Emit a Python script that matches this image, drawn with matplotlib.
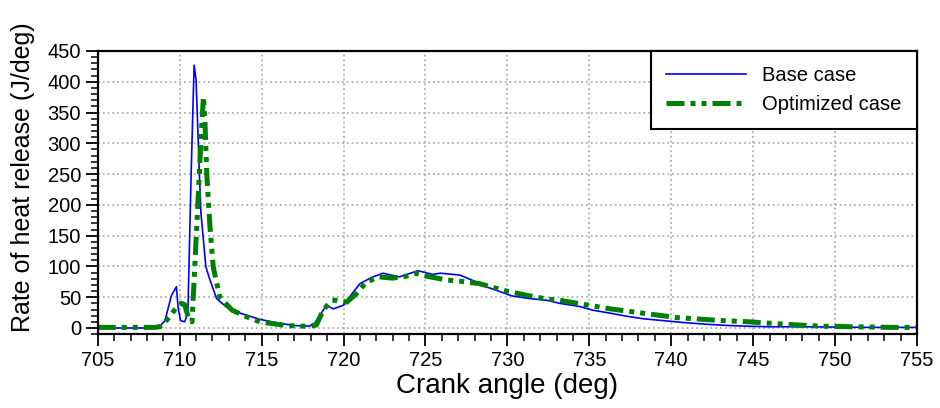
import numpy as np
import matplotlib.pyplot as plt
from matplotlib.ticker import MultipleLocator

plt.rcParams['font.family'] = ['Liberation Sans', 'DejaVu Sans']

# Base case heat release rate (crank angle in deg, J/deg)
base_angle = [705, 706, 707, 708, 708.5, 708.8, 709.1, 709.5, 709.8, 709.9, 710.05, 710.3,
              710.5, 710.7, 710.88, 711.0, 711.2, 711.3, 711.6, 711.85, 712.25, 712.85,
              713.7, 714.9, 716.0, 716.5, 717.0, 717.9, 718.25, 718.96, 719.37, 720.0,
              720.5, 721.0, 721.7, 722.4, 723.4, 724.55, 725.45, 725.9, 727.1, 728.0,
              728.7, 730.3, 731.3, 732.4, 733.2, 734.4, 735.2, 736.3, 737.3, 738.3,
              739.3, 740.7, 742.2, 743.5, 744.6, 746, 748, 750, 752, 755]
base_hrr = [0, 0, 0, 0, 1, 3, 12, 53, 67, 34, 12, 10,
            24, 251, 427, 403, 251, 186, 99, 78, 48, 34,
            24, 14, 8, 6, 4, 3, 8, 37, 31, 37,
            55, 72, 82, 89, 83, 93, 87, 89, 86, 76,
            67, 52, 48, 45, 40, 35, 29, 24, 19, 15,
            12.5, 9, 6, 4, 3, 2, 2, 1.5, 1, 1]

# Optimized case
opt_angle = [705, 708.5, 708.8, 709.4, 709.8, 710.1, 710.3, 710.55, 710.75, 710.9, 711.1,
             711.3, 711.45, 711.55, 711.65, 711.85, 712.05, 712.45, 713.2, 714.1, 714.9,
             715.7, 716.5, 717.5, 718.0, 718.35, 718.75, 719.3, 719.6, 720.2, 720.8,
             721.4, 722.2, 723.0, 723.8, 724.4, 725.1, 726.3, 727.1, 728.3, 729.95,
             731.2, 732.4, 733.2, 734.3, 736.3, 738.3, 740.3, 742.8, 744.8, 747.0,
             749.1, 751.1, 753.5, 755]
opt_hrr = [1, 1, 2, 18, 34, 40, 38, 15, 10, 88, 197,
           305, 376, 330, 251, 164, 99, 50, 29, 18, 10,
           7, 4, 3, 3, 5, 29, 45, 45, 42, 56,
           75, 83, 81, 84, 89, 84, 78, 76, 72, 60,
           53, 47, 45, 40, 31, 24, 17, 12.5, 10, 6,
           3, 2, 1, 1]

fig, ax = plt.subplots(figsize=(9.4, 4.08), dpi=100)
fig.subplots_adjust(left=0.104, right=0.9755, top=0.875, bottom=0.181)

ax.plot(base_angle, base_hrr, color='#0000ff', linewidth=1.2, label='Base case')
ax.plot(opt_angle, opt_hrr, color='#008000', linewidth=3.6,
        linestyle=(0, (3.6, 1.2, 1.0, 1.2, 1.0, 1.2)), label='Optimized case')

ax.set_xlim(705, 755)
ax.set_ylim(-10, 450)
ax.xaxis.set_major_locator(MultipleLocator(5))
ax.xaxis.set_minor_locator(MultipleLocator(1))
ax.yaxis.set_major_locator(MultipleLocator(50))
ax.yaxis.set_minor_locator(MultipleLocator(10))
ax.tick_params(which='major', direction='out', length=8.5, width=1.3, labelsize=14.5)
ax.tick_params(which='minor', direction='out', length=5, width=1.1)

ax.grid(True, which='major', linestyle=':', color='#b0b0b0', linewidth=1.3)
for s in ax.spines.values():
    s.set_linewidth(1.6)

ax.set_xlabel('Crank angle (deg)', fontsize=20, labelpad=2)
ax.set_ylabel('Rate of heat release (J/deg)', fontsize=18)
ax.yaxis.set_label_coords(-0.077, 0.555)

leg = ax.legend(loc='upper right', fontsize=14.5, borderaxespad=0, fancybox=False,
                edgecolor='black', framealpha=1, handlelength=4.0, borderpad=0.75,
                labelspacing=0.5)
leg.get_frame().set_linewidth(1.5)

plt.savefig('out.png', dpi=100)
